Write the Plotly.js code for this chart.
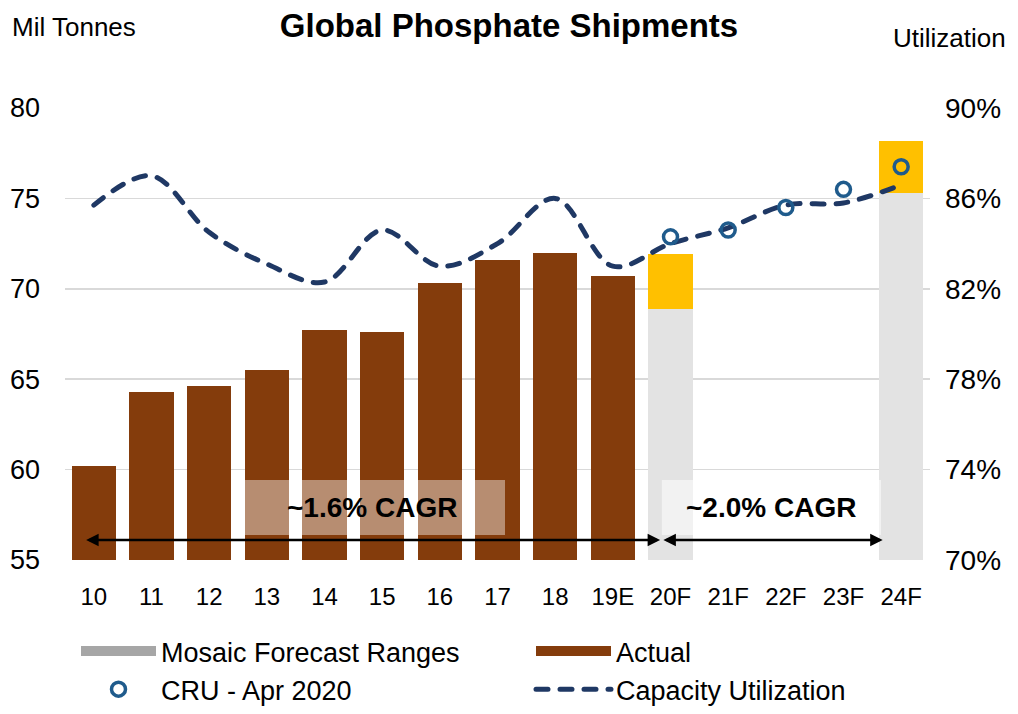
<!DOCTYPE html>
<html>
<head>
<meta charset="utf-8">
<script src="https://cdn.plot.ly/plotly-3.0.1.min.js"></script>
<style>
html,body{margin:0;padding:0;background:#fff;}
#chart{width:1018px;height:714px;}
#chart path.roundcap{stroke-linecap:round;}
</style>
</head>
<body>
<div id="chart"></div>
<script>
// ---- data ----
const categories = ['10','11','12','13','14','15','16','17','18','19E','20F','21F','22F','23F','24F'];
const actual = [60.2, 64.3, 64.6, 65.5, 67.7, 67.6, 70.3, 71.6, 72.0, 70.7, null, null, null, null, null];
const forecastLow = [null, null, null, null, null, null, null, null, null, null, 68.9, null, null, null, 75.3];
const forecastHigh = [null, null, null, null, null, null, null, null, null, null, 71.9, null, null, null, 78.2];
const utilization = [85.7, 87.0, 84.5, 83.1, 82.3, 84.6, 83.0, 84.0, 86.0, 83.0, 84.0, 84.7, 85.7, 85.8, 86.6];
const cru = [null, null, null, null, null, null, null, null, null, null, 84.3, 84.6, 85.6, 86.4, 87.4];
const yTicks = [55, 60, 65, 70, 75, 80];
const y2Ticks = [70, 74, 78, 82, 86, 90];
const cagrLabels = ['~1.6% CAGR', '~2.0% CAGR'];
const legendNames = ['Mosaic Forecast Ranges', 'Actual', 'CRU - Apr 2020', 'Capacity Utilization'];

// ---- styling ----
const FONT = 'Arial, "Liberation Sans", sans-serif';
const BROWN = '#843c0c', YELLOW = '#ffc000', LIGHTGRAY = '#e3e3e3', LEGGRAY = '#a6a6a6';
const NAVY = '#1f3864', BLUE = '#1f5b8c';
const blank = categories.map(() => null);
const rangeSpan = forecastHigh.map((h, i) => (h == null || forecastLow[i] == null) ? null : +(h - forecastLow[i]).toFixed(2));
const cruMarker = {symbol: 'circle-open', size: 14, color: BLUE, line: {width: 3.5, color: BLUE}};
const utilLine = {color: NAVY, width: 5, dash: '12px,12px'};

const traces = [
  {type: 'bar', x: categories, y: forecastLow, marker: {color: LIGHTGRAY}, showlegend: false, hoverinfo: 'skip'},
  {type: 'bar', x: categories, y: rangeSpan, marker: {color: YELLOW}, showlegend: false, hoverinfo: 'skip'},
  {type: 'bar', x: categories, y: actual, marker: {color: BROWN}, showlegend: false, hoverinfo: 'skip'},
  {type: 'scatter', mode: 'lines', x: categories, y: utilization, yaxis: 'y2', showlegend: false,
   line: Object.assign({shape: 'spline', smoothing: 1}, utilLine)},
  {type: 'scatter', mode: 'markers', x: categories, y: cru, yaxis: 'y2', showlegend: false, marker: cruMarker},
  // legend entries (two columns -> two legends)
  {type: 'scatter', mode: 'lines', x: categories, y: blank, name: legendNames[0], legend: 'legend', legendgroup: 'a',
   line: {color: LEGGRAY, width: 15}},
  {type: 'scatter', mode: 'markers', x: categories, y: blank, name: legendNames[2], legend: 'legend', legendgroup: 'b',
   marker: cruMarker},
  {type: 'scatter', mode: 'lines', x: categories, y: blank, name: legendNames[1], legend: 'legend2', legendgroup: 'c',
   line: {color: BROWN, width: 15}},
  {type: 'scatter', mode: 'lines', x: categories, y: blank, name: legendNames[3], legend: 'legend2', legendgroup: 'd',
   line: utilLine}
];

const L = 65, R = 930, T = 108, B = 560, W = 1018, H = 714;
const px = v => (v - L) / (R - L);
const py = v => (B - v) / (B - T);
const legendBase = {orientation: 'v', traceorder: 'normal', xanchor: 'left', y: py(627), yanchor: 'top',
                    itemwidth: 75, font: {size: 27}, tracegroupgap: 3, itemclick: false, bgcolor: 'rgba(0,0,0,0)'};

const layout = {
  width: W, height: H,
  margin: {l: L, r: W - R, t: T, b: H - B, pad: 0, autoexpand: false},
  paper_bgcolor: '#fff', plot_bgcolor: '#fff',
  font: {family: FONT, color: '#000', size: 26},
  barmode: 'stack', bargap: 0.23,
  title: {text: '<b>Global Phosphate Shipments</b>', font: {family: FONT, size: 33, color: '#000'},
          x: 0.5, xanchor: 'center', xref: 'container', y: 1 - 25 / H, yanchor: 'middle', yref: 'container'},
  xaxis: {type: 'category', categoryorder: 'array', categoryarray: categories, range: [-0.5, categories.length - 0.5],
          autorange: false, showgrid: false, zeroline: false, showline: false, ticks: '', tickfont: {size: 24}, ticklabelstandoff: 20},
  yaxis: {range: [55, 80], tickvals: yTicks, showgrid: true, gridcolor: '#d9d9d9', gridwidth: 1.5, zeroline: false,
          showline: false, ticks: '', tickfont: {size: 27}, ticklabelstandoff: 24},
  yaxis2: {range: [70, 90], tickvals: y2Ticks, ticktext: y2Ticks.map(v => v + '%'), overlaying: 'y', side: 'right',
           showgrid: false, zeroline: false, showline: false, ticks: '', tickfont: {size: 28}, ticklabelstandoff: 14},
  showlegend: true,
  legend: Object.assign({x: px(76)}, legendBase),
  legend2: Object.assign({x: px(531)}, legendBase),
  shapes: [
    {type: 'rect', xref: 'x', yref: 'y', x0: 2.6, x1: 7.13, y0: 56.38, y1: 59.42, fillcolor: 'rgba(255,255,255,0.42)', line: {width: 0}, layer: 'above'},
    {type: 'rect', xref: 'x', yref: 'y', x0: 9.85, x1: 13.65, y0: 56.38, y1: 59.42, fillcolor: 'rgba(255,255,255,0.55)', line: {width: 0}, layer: 'above'}
  ],
  annotations: [
    {text: 'Mil Tonnes', xref: 'paper', yref: 'paper', x: px(10), y: py(27), xanchor: 'left', yanchor: 'middle', showarrow: false, font: {size: 26}},
    {text: 'Utilization', xref: 'paper', yref: 'paper', x: px(1008), y: py(38), xanchor: 'right', yanchor: 'middle', showarrow: false, font: {size: 26}},
    {text: '<b>' + cagrLabels[0] + '</b>', xref: 'x', yref: 'y', x: 4.83, y: 57.9, showarrow: false, font: {size: 28}},
    {text: '<b>' + cagrLabels[1] + '</b>', xref: 'x', yref: 'y', x: 11.75, y: 57.9, showarrow: false, font: {size: 28}},
    {text: '', xref: 'x', yref: 'y', axref: 'x', ayref: 'y', x: 9.82, y: 56.1, ax: -0.16, ay: 56.1, showarrow: true,
     arrowhead: 2, startarrowhead: 2, arrowside: 'end+start', arrowwidth: 2.5, arrowsize: 1, startarrowsize: 1, arrowcolor: '#000'},
    {text: '', xref: 'x', yref: 'y', axref: 'x', ayref: 'y', x: 13.68, y: 56.1, ax: 9.85, ay: 56.1, showarrow: true,
     arrowhead: 2, startarrowhead: 2, arrowside: 'end+start', arrowwidth: 2.5, arrowsize: 1, startarrowsize: 1, arrowcolor: '#000'}
  ]
};

Plotly.newPlot('chart', traces, layout, {displayModeBar: false, staticPlot: true}).then(gd => {
  // round caps only on the dashed utilization line (plot and legend), as in the reference
  gd.querySelectorAll('path.js-line').forEach(p => {
    const d = p.style.strokeDasharray;
    if (d && d !== 'none') p.classList.add('roundcap');
  });
});
</script>
</body>
</html>
